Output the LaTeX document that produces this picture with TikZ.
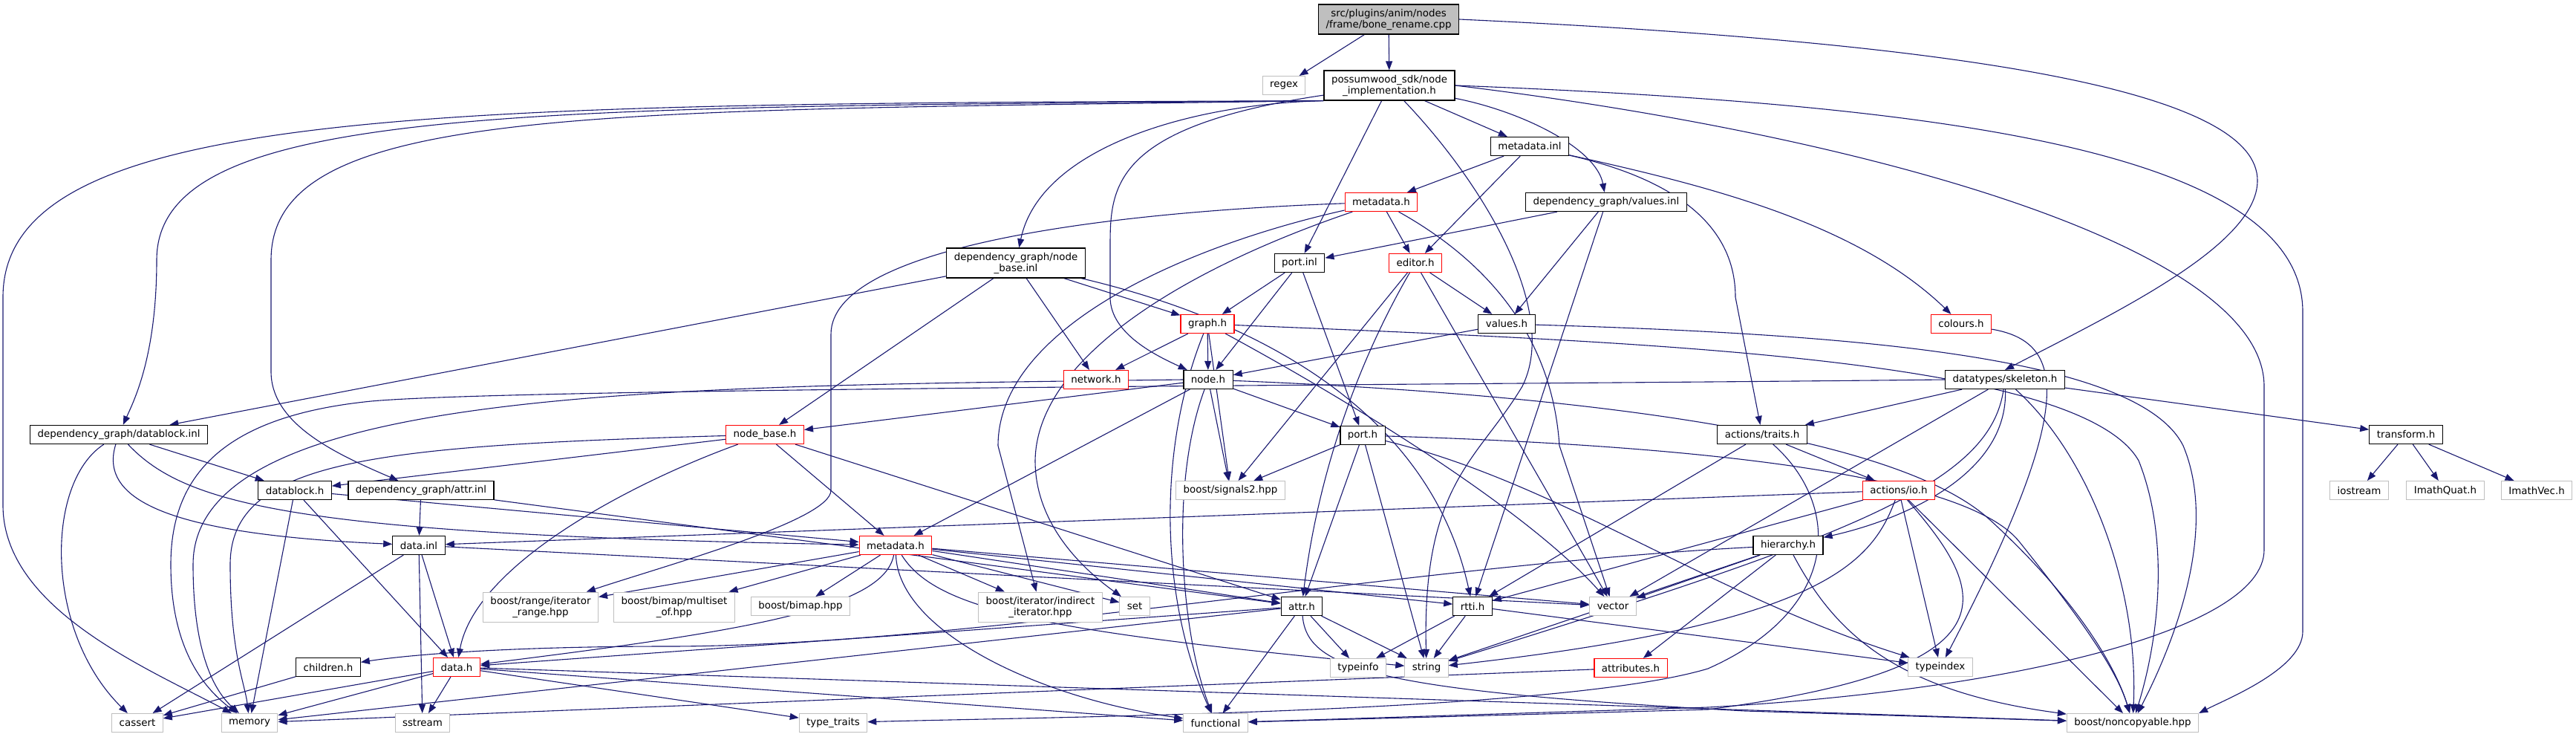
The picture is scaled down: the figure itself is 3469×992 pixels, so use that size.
\documentclass[tikz,border=0pt]{standalone}
\usepackage{fontspec}
\setmainfont{DejaVu Sans}
\usetikzlibrary{arrows.meta}
\definecolor{edgeblue}{HTML}{191970}
\definecolor{boxgray}{HTML}{BFBFBF}
\pgfdeclarelayer{edges}
\pgfsetlayers{edges,main}

\begin{document}
\begin{tikzpicture}[x=1pt,y=-1pt,>={Triangle[length=12pt,width=9pt]},font=\fontsize{13.4}{15}\selectfont,
  hdr/.style={draw=black,line width=1.2pt,fill=white,inner xsep=10pt,inner ysep=3pt,minimum height=25pt,align=center},
  trunc/.style={hdr,draw=red},
  sys/.style={hdr,draw=boxgray,line width=1pt},
  root/.style={hdr,fill=boxgray},
  two/.style={minimum height=40pt},
  dep/.style={->,draw=edgeblue,line width=1.1pt}]
  \useasboundingbox (0,0) rectangle (3469,992);
  % the file and its own headers
  \node[root,two] (cpp) at (1870,26) {src/plugins/anim/nodes\\/frame/bone\_rename.cpp};
  \node[sys] (regex) at (1729,115) {regex};
  \node[hdr,two] (nodeimpl) at (1871,115) {possumwood\_sdk/node\\\_implementation.h};
  \node[hdr] (metainl) at (2060,197) {metadata.inl};
  \node[trunc] (sdkmeta) at (1860,272) {metadata.h};
  \node[hdr] (valuesinl) at (2163,272) {dependency\_graph/values.inl};
  \node[hdr,two] (nodebaseinl) at (1368,354) {dependency\_graph/node\\\_base.inl};
  \node[hdr] (portinl) at (1750,354) {port.inl};
  \node[trunc] (editor) at (1906,354) {editor.h};
  \node[trunc] (colours) at (2641,436) {colours.h};
  \node[trunc] (graph) at (1626,436) {graph.h};
  \node[hdr] (valuesh) at (2029,436) {values.h};
  \node[trunc] (network) at (1476,511) {network.h};
  \node[hdr] (nodeh) at (1627,511) {node.h};
  \node[hdr] (skeleton) at (2700,511) {datatypes/skeleton.h};
  \node[hdr] (datablockinl) at (160,585) {dependency\_graph/datablock.inl};
  \node[trunc] (nodebaseh) at (1030,585) {node\_base.h};
  \node[hdr] (porth) at (1835,586) {port.h};
  \node[hdr] (traits) at (2373,585) {actions/traits.h};
  \node[hdr] (transform) at (3240,585) {transform.h};
  \node[hdr] (datablockh) at (397,660) {datablock.h};
  \node[hdr] (attrinl) at (567,660) {dependency\_graph/attr.inl};
  \node[sys] (signals) at (1657,660) {boost/signals2.hpp};
  \node[trunc] (io) at (2557,660) {actions/io.h};
  \node[sys] (iostream) at (3177,660) {iostream};
  \node[sys] (imathquat) at (3293,660) {ImathQuat.h};
  \node[sys] (imathvec) at (3416,660) {ImathVec.h};
  \node[hdr] (datainl) at (564,734) {data.inl};
  \node[trunc] (dgmeta) at (1206,734) {metadata.h};
  \node[hdr] (hierarchy) at (2408,734) {hierarchy.h};
  \node[sys,two] (itrange) at (728,817) {boost/range/iterator\\\_range.hpp};
  \node[sys,two] (multiset) at (908,817) {boost/bimap/multiset\\\_of.hpp};
  \node[sys] (bimap) at (1078,816) {boost/bimap.hpp};
  \node[sys,two] (indirect) at (1401,817) {boost/iterator/indirect\\\_iterator.hpp};
  \node[sys] (set) at (1528,816) {set};
  \node[hdr] (attrh) at (1753,816) {attr.h};
  \node[hdr] (rtti) at (1983,816) {rtti.h};
  \node[sys] (vector) at (2172,816) {vector};
  \node[hdr] (children) at (442,898) {children.h};
  \node[trunc] (datah) at (615,898) {data.h};
  \node[sys] (typeinfo) at (1829,899) {typeinfo};
  \node[sys] (string) at (1921,899) {string};
  \node[trunc] (attributes) at (2196,899) {attributes.h};
  \node[sys] (typeindex) at (2613,898) {typeindex};
  \node[sys] (cassert) at (185,973) {cassert};
  \node[sys] (memory) at (336,973) {memory};
  \node[sys] (sstream) at (569,973) {sstream};
  \node[sys] (typetraits) at (1122,973) {type\_traits};
  \node[sys] (functional) at (1637,973) {functional};
  \node[sys] (noncopyable) at (2872,973) {boost/noncopyable.hpp};
  \begin{pgfonlayer}{edges}
  % from the plugin file
  \draw[dep] (cpp) -- (regex);
  \draw[dep] (cpp) -- (nodeimpl);
  \draw[dep] (cpp.east) .. controls (2700,60) and (3040,130) .. (3040,243) .. controls (3040,330) and (2850,420) .. (skeleton.north);
  % node_implementation.h
  \draw[dep] (nodeimpl.south west) .. controls (600,140) and (4,140) .. (4,400) -- (4,680) .. controls (4,820) and (200,900) .. (memory);
  \draw[dep] (nodeimpl.south west) .. controls (700,145) and (211,140) .. (211,350) .. controls (211,480) and (180,540) .. (datablockinl);
  \draw[dep] (nodeimpl.south west) .. controls (800,150) and (365,140) .. (365,350) -- (365,500) .. controls (365,570) and (450,610) .. (attrinl);
  \draw[dep] (nodeimpl.south west) .. controls (1600,140) and (1400,200) .. (nodebaseinl);
  \draw[dep] (nodeimpl) .. controls (1500,170) and (1495,250) .. (1495,330) -- (1495,400) .. controls (1495,450) and (1560,480) .. (nodeh);
  \draw[dep] (nodeimpl) -- (portinl);
  \draw[dep] (nodeimpl) -- (metainl);
  \draw[dep] (nodeimpl) .. controls (2050,150) and (2150,200) .. (valuesinl);
  \draw[dep] (nodeimpl) .. controls (2000,250) and (2100,420) .. (2050,520) .. controls (1990,620) and (1915,650) .. (string);
  \draw[dep] (nodeimpl.east) .. controls (2600,140) and (3101,200) .. (3101,420) -- (3101,850) .. controls (3101,900) and (3000,940) .. (noncopyable.north east);
  \draw[dep] (nodeimpl.east) .. controls (2500,180) and (3049,330) .. (3049,520) -- (3049,740) .. controls (3049,850) and (2700,930) .. (2300,952) -- (functional);
  % metadata.inl and the sdk metadata.h
  \draw[dep] (metainl) -- (sdkmeta);
  \draw[dep] (metainl) -- (editor);
  \draw[dep] (metainl) .. controls (2250,240) and (2337,300) .. (2337,400) -- (traits);
  \draw[dep] (metainl) .. controls (2300,250) and (2500,300) .. (colours);
  \draw[dep] (sdkmeta) -- (editor);
  \draw[dep] (sdkmeta) .. controls (1500,285) and (1119,330) .. (1119,450) -- (1119,660) .. controls (1119,700) and (900,760) .. (itrange);
  \draw[dep] (sdkmeta) .. controls (1600,330) and (1344,440) .. (1344,600) -- (indirect);
  \draw[dep] (sdkmeta) .. controls (1600,360) and (1396,480) .. (1394,620) .. controls (1394,700) and (1450,760) .. (set);
  \draw[dep] (sdkmeta) .. controls (2000,350) and (2090,450) .. (2100,600) -- (vector);
  % values and ports
  \draw[dep] (valuesinl) -- (portinl);
  \draw[dep] (valuesinl) -- (valuesh);
  \draw[dep] (valuesinl) -- (rtti);
  \draw[dep] (editor) -- (valuesh);
  \draw[dep] (editor) -- (signals);
  \draw[dep] (editor) .. controls (1850,450) and (1780,600) .. (attrh);
  \draw[dep] (editor) -- (vector);
  \draw[dep] (portinl) -- (graph);
  \draw[dep] (portinl) -- (nodeh);
  \draw[dep] (portinl) -- (porth);
  % node_base.inl and graph.h
  \draw[dep] (nodebaseinl) -- (datablockinl);
  \draw[dep] (nodebaseinl) -- (nodebaseh);
  \draw[dep] (nodebaseinl) -- (network);
  \draw[dep] (nodebaseinl) -- (graph);
  \draw[dep] (nodebaseinl) .. controls (1650,420) and (1920,530) .. (rtti);
  \draw[dep] (graph) -- (network);
  \draw[dep] (graph) -- (nodeh);
  \draw[dep] (graph) -- (signals);
  \draw[dep] (graph) .. controls (1800,530) and (2050,680) .. (vector);
  \draw[dep] (graph) .. controls (1560,600) and (1560,800) .. (functional);
  \draw[dep] (graph) .. controls (2200,460) and (2800,480) .. (2880,620) .. controls (2920,720) and (2910,850) .. (noncopyable);
  \draw[dep] (valuesh) -- (nodeh);
  \draw[dep] (valuesh) .. controls (2500,450) and (2880,480) .. (2940,600) .. controls (2990,720) and (2920,880) .. (noncopyable);
  % node.h and port.h
  \draw[dep] (nodeh) -- (nodebaseh);
  \draw[dep] (nodeh.west) .. controls (900,520) and (260,520) .. (260,760) .. controls (260,900) and (300,940) .. (memory);
  \draw[dep] (nodeh) -- (dgmeta);
  \draw[dep] (nodeh) -- (porth);
  \draw[dep] (nodeh) -- (signals);
  \draw[dep] (nodeh) .. controls (1575,650) and (1590,850) .. (functional);
  \draw[dep] (nodeh) .. controls (2100,530) and (2550,580) .. (2680,700) .. controls (2800,810) and (2850,900) .. (noncopyable);
  \draw[dep] (porth) -- (signals);
  \draw[dep] (porth) -- (attrh);
  \draw[dep] (porth) -- (string);
  \draw[dep] (porth) .. controls (2300,600) and (2650,640) .. (2720,730) .. controls (2800,830) and (2850,900) .. (noncopyable);
  \draw[dep] (porth) .. controls (2100,650) and (2300,800) .. (typeindex);
  % node_base.h and the datablock files
  \draw[dep] (nodebaseh) -- (datablockh);
  \draw[dep] (nodebaseh) -- (dgmeta);
  \draw[dep] (nodebaseh) .. controls (850,650) and (640,760) .. (datah);
  \draw[dep] (nodebaseh) .. controls (500,600) and (310,620) .. (310,760) .. controls (310,880) and (330,920) .. (memory);
  \draw[dep] (nodebaseh) -- (attrh);
  \draw[dep] (datablockinl) .. controls (60,650) and (60,850) .. (cassert);
  \draw[dep] (datablockinl) -- (datablockh);
  \draw[dep] (datablockinl) .. controls (130,680) and (250,720) .. (datainl);
  \draw[dep] (datablockinl) .. controls (250,680) and (400,720) .. (dgmeta);
  \draw[dep] (datablockh) -- (memory);
  \draw[dep] (datablockh) -- (datah);
  \draw[dep] (datablockh) -- (dgmeta);
  \draw[dep] (attrinl) -- (datainl);
  \draw[dep] (attrinl) -- (attrh);
  \draw[dep] (datainl) -- (cassert);
  \draw[dep] (datainl) -- (sstream);
  \draw[dep] (datainl) -- (datah);
  \draw[dep] (datainl) -- (vector);
  % dependency_graph metadata.h
  \draw[dep] (dgmeta) -- (itrange);
  \draw[dep] (dgmeta) -- (multiset);
  \draw[dep] (dgmeta) -- (bimap);
  \draw[dep] (dgmeta) -- (indirect);
  \draw[dep] (dgmeta) -- (set);
  \draw[dep] (dgmeta) -- (attrh);
  \draw[dep] (dgmeta) -- (rtti);
  \draw[dep] (dgmeta) -- (vector);
  \draw[dep] (dgmeta) .. controls (1260,820) and (1400,850) .. (string);
  \draw[dep] (dgmeta) .. controls (1210,850) and (1400,940) .. (functional);
  \draw[dep] (dgmeta) .. controls (1190,820) and (1000,850) .. (datah);
  % attr.h, rtti.h, data.h
  \draw[dep] (attrh) -- (typeinfo);
  \draw[dep] (attrh) -- (string);
  \draw[dep] (attrh) -- (functional);
  \draw[dep] (attrh) .. controls (1760,900) and (1850,930) .. (2350,957) -- (noncopyable);
  \draw[dep] (attrh) -- (datah);
  \draw[dep] (attrh) -- (memory);
  \draw[dep] (rtti) -- (typeinfo);
  \draw[dep] (rtti) -- (string);
  \draw[dep] (rtti) -- (typeindex);
  \draw[dep] (children) -- (cassert);
  \draw[dep] (datah) -- (cassert);
  \draw[dep] (datah) -- (memory);
  \draw[dep] (datah) -- (sstream);
  \draw[dep] (datah) -- (typetraits);
  \draw[dep] (datah) -- (functional);
  \draw[dep] (datah) -- (noncopyable);
  \draw[dep] (attributes) -- (memory);
  % skeleton side
  \draw[dep] (skeleton) -- (traits);
  \draw[dep] (skeleton) -- (transform);
  \draw[dep] (skeleton) .. controls (2705,640) and (2560,700) .. (hierarchy);
  \draw[dep] (skeleton) .. controls (2820,620) and (2880,800) .. (noncopyable);
  \draw[dep] (skeleton.west) .. controls (2000,518) and (700,522) .. (500,540) .. controls (300,560) and (230,640) .. (230,760) .. controls (230,880) and (280,930) .. (memory);
  \draw[dep] (skeleton) -- (vector);
  \draw[dep] (skeleton) .. controls (2680,650) and (2500,720) .. (string);
  \draw[dep] (transform) -- (iostream);
  \draw[dep] (transform) -- (imathquat);
  \draw[dep] (transform) -- (imathvec);
  \draw[dep] (colours) .. controls (2780,460) and (2800,540) .. (typeindex);
  \draw[dep] (traits) -- (io);
  \draw[dep] (traits) -- (rtti);
  \draw[dep] (traits) .. controls (2480,680) and (2480,820) .. (2300,900) .. controls (2100,960) and (1400,965) .. (typetraits);
  \draw[dep] (io) -- (datainl);
  \draw[dep] (io) -- (rtti);
  \draw[dep] (io) -- (typeindex);
  \draw[dep] (io) -- (noncopyable);
  \draw[dep] (io) .. controls (2520,760) and (2450,840) .. (string);
  \draw[dep] (io) .. controls (2680,800) and (2720,900) .. (2300,955) -- (functional);
  \draw[dep] (hierarchy) .. controls (1900,760) and (1300,870) .. (900,870) .. controls (700,870) and (560,880) .. (children);
  \draw[dep] (hierarchy) -- (vector);
  \draw[dep] (hierarchy) -- (string);
  \draw[dep] (hierarchy) -- (attributes);
  \draw[dep] (hierarchy) .. controls (2470,850) and (2550,930) .. (noncopyable);
  \end{pgfonlayer}
\end{tikzpicture}
\end{document}
